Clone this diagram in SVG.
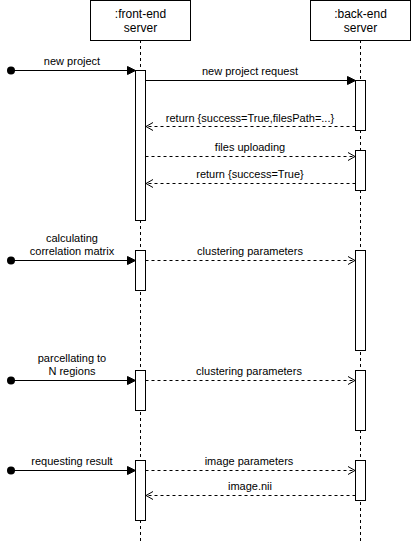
<svg xmlns="http://www.w3.org/2000/svg" width="411" height="541" viewBox="0 0 411 541">
<style>
  .box{fill:#fff;stroke:#000;stroke-width:1}
  .life{stroke:#000;stroke-width:1;stroke-dasharray:3,3;fill:none}
  .bar{fill:#fff;stroke:#000;stroke-width:1}
  .sync{stroke:#000;stroke-width:1;fill:none}
  .dash{stroke:#000;stroke-width:1;fill:none;stroke-dasharray:3,3}
  .head{fill:#000;stroke:#000;stroke-width:1}
  .open{fill:none;stroke:#000;stroke-width:1}
  text{font-family:"Liberation Sans",Arial,sans-serif;fill:#000;text-anchor:middle}
  .t{font-size:12px}
  .l{font-size:11px}
</style>
<rect width="411" height="541" fill="#fff"/>
<g id="lifelines">
  <path class="life" d="M140.5 40V541"/>
  <path class="life" d="M360.5 40V541"/>
</g>
<g id="front-end">
  <rect class="box" x="90.5" y="0.5" width="100" height="40"/>
  <text class="t" x="140.5" y="18">:front-end</text>
  <text class="t" x="140.5" y="32">server</text>
</g>
<g id="back-end">
  <rect class="box" x="310.5" y="0.5" width="100" height="40"/>
  <text class="t" x="360.5" y="18">:back-end</text>
  <text class="t" x="360.5" y="32">server</text>
</g>
<g id="activations">
  <rect class="bar" x="135.5" y="70.5" width="10" height="150"/>
  <rect class="bar" x="355.5" y="80.5" width="10" height="50"/>
  <rect class="bar" x="355.5" y="150.5" width="10" height="40"/>
  <rect class="bar" x="135.5" y="250.5" width="10" height="40"/>
  <rect class="bar" x="355.5" y="250.5" width="10" height="100"/>
  <rect class="bar" x="135.5" y="370.5" width="10" height="40"/>
  <rect class="bar" x="355.5" y="370.5" width="10" height="60"/>
  <rect class="bar" x="135.5" y="460.5" width="10" height="60"/>
  <rect class="bar" x="355.5" y="460.5" width="10" height="40"/>
</g>
<g id="connectors">
  <!-- found messages -->
  <circle cx="11" cy="70.5" r="4" fill="#000"/>
  <path class="sync" d="M11 70.5H128"/>
  <path class="head" d="M135.5 70.5L127.5 66.5V74.5Z"/>
  <circle cx="11" cy="260.5" r="4" fill="#000"/>
  <path class="sync" d="M11 260.5H128"/>
  <path class="head" d="M135.5 260.5L127.5 256.5V264.5Z"/>
  <circle cx="11" cy="380.5" r="4" fill="#000"/>
  <path class="sync" d="M11 380.5H128"/>
  <path class="head" d="M135.5 380.5L127.5 376.5V384.5Z"/>
  <circle cx="11" cy="470.5" r="4" fill="#000"/>
  <path class="sync" d="M11 470.5H128"/>
  <path class="head" d="M135.5 470.5L127.5 466.5V474.5Z"/>
  <!-- new project request -->
  <path class="sync" d="M145.5 80.5H348"/>
  <path class="head" d="M355.5 80.5L347.5 76.5V84.5Z"/>
  <!-- return filesPath -->
  <path class="dash" d="M355.5 126.5H146"/>
  <path class="open" d="M153 122.5L146 126.5L153 130.5"/>
  <!-- files uploading -->
  <path class="dash" d="M145.5 156.5H355"/>
  <path class="open" d="M348 152.5L355 156.5L348 160.5"/>
  <!-- return success -->
  <path class="dash" d="M355.5 183.5H146"/>
  <path class="open" d="M153 179.5L146 183.5L153 187.5"/>
  <!-- clustering parameters 1 -->
  <path class="dash" d="M145.5 260.5H355"/>
  <path class="open" d="M348 256.5L355 260.5L348 264.5"/>
  <!-- clustering parameters 2 -->
  <path class="dash" d="M145.5 380.5H355"/>
  <path class="open" d="M348 376.5L355 380.5L348 384.5"/>
  <!-- image parameters -->
  <path class="dash" d="M145.5 470.5H355"/>
  <path class="open" d="M348 466.5L355 470.5L348 474.5"/>
  <!-- image.nii -->
  <path class="dash" d="M355.5 495.5H146"/>
  <path class="open" d="M153 491.5L146 495.5L153 499.5"/>
</g>
<g id="labels">
  <text class="l" x="72" y="65">new project</text>
  <text class="l" x="250" y="75">new project request</text>
  <text class="l" x="250" y="122">return {success=True,filesPath=...}</text>
  <text class="l" x="250" y="151">files uploading</text>
  <text class="l" x="250" y="178">return {success=True}</text>
  <text class="l" x="72" y="242">calculating</text>
  <text class="l" x="72" y="255">correlation matrix</text>
  <text class="l" x="250" y="255">clustering parameters</text>
  <text class="l" x="72" y="362">parcellating to</text>
  <text class="l" x="72" y="375">N regions</text>
  <text class="l" x="249" y="375">clustering parameters</text>
  <text class="l" x="72" y="465">requesting result</text>
  <text class="l" x="249" y="465">image parameters</text>
  <text class="l" x="250" y="490">image.nii</text>
</g>
</svg>
